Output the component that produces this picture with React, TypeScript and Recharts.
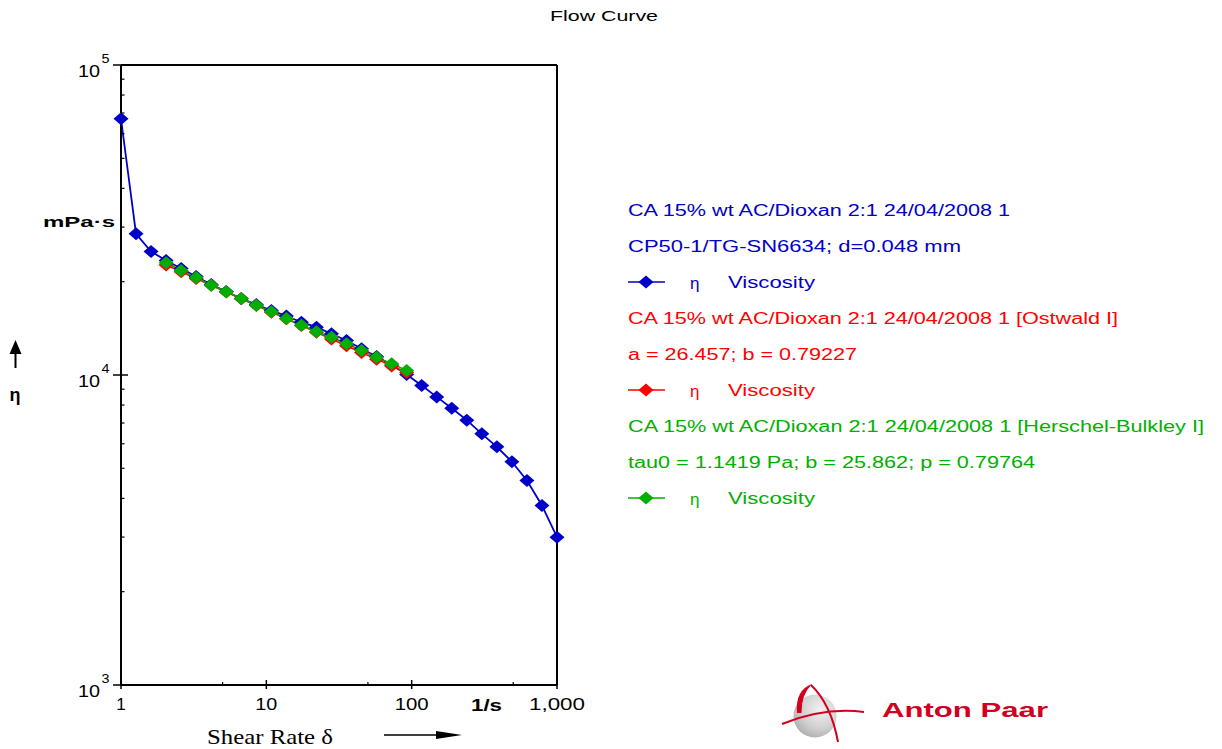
import { LineChart, Line, XAxis, YAxis, ReferenceLine, Legend } from 'recharts'

const FONT = "'Liberation Sans', Arial, Helvetica, sans-serif"
const SERIF = "'Liberation Serif', 'Times New Roman', serif"
const BLUE = '#0000C8'
const RED = '#FF0000'
const GREEN = '#00B000'
const LOGO_RED = '#D2001E'

// shear rate, 1/s (30 log-spaced points)
const shearRate = [
  1, 1.269, 1.61, 2.043, 2.593, 3.29, 4.175, 5.298, 6.723, 8.532,
  10.83, 13.74, 17.43, 22.12, 28.07, 35.62, 45.2, 57.36, 72.79, 92.37,
  117.2, 148.7, 188.7, 239.5, 303.9, 385.7, 489.4, 621.1, 788.1, 1000,
]

// measured viscosity, mPa·s
const etaMeasured = [
  67080, 28540, 25030, 23410, 22050, 20780, 19580, 18590, 17650, 16880,
  16150, 15500, 14800, 14270, 13580, 12920, 12150, 11470, 10770, 10040,
  9250, 8500, 7815, 7150, 6460, 5865, 5250, 4567, 3793, 2998,
]

// the two fits only cover shearRate[3] .. shearRate[19]
const FIT_FROM = 3
const etaOstwald = [
  22640, 21540, 20490, 19490, 18530, 17630, 16770, 15950, 15180,
  14440, 13730, 13070, 12430, 11820, 11250, 10700, 10180,
]
const etaHerschel = [
  23010, 21730, 20630, 19490, 18550, 17650, 16800, 15990, 15220,
  14480, 13790, 13240, 12610, 11990, 11410, 10870, 10340,
]

const xTicks = [1, 5, 10, 50, 100, 500, 1000]
const xTickLabels: Record<number, string> = { 1: '1', 10: '10', 100: '100', 1000: '1,000' }
const yTicks = [
  1000, 2000, 3000, 4000, 5000, 6000, 7000, 8000, 9000,
  10000, 20000, 30000, 40000, 50000, 60000, 70000, 80000, 90000, 100000,
]
const yTickExponents: Record<number, string> = { 1000: '3', 10000: '4', 100000: '5' }

const seriesKeys = ['measured', 'ostwald', 'herschel']
const seriesColors = [BLUE, RED, GREEN]
const seriesTitles = [
  'CA 15% wt AC/Dioxan 2:1 24/04/2008 1',
  'CA 15% wt AC/Dioxan 2:1 24/04/2008 1 [Ostwald I]',
  'CA 15% wt AC/Dioxan 2:1 24/04/2008 1 [Herschel-Bulkley I]',
]
const seriesNotes = [
  'CP50-1/TG-SN6634; d=0.048 mm',
  'a = 26.457; b = 0.79227',
  'tau0 = 1.1419 Pa; b = 25.862; p = 0.79764',
]
// rendered widths of the stretched legend text
const titleWidths = [382, 490, 576]
const noteWidths = [333, 229, 407]

const table = shearRate.map((rate, i) => ({
  rate,
  measured: etaMeasured[i],
  ostwald: etaOstwald[i - FIT_FROM] ?? null,
  herschel: etaHerschel[i - FIT_FROM] ?? null,
}))

function diamond(cx: number, cy: number, w = 7.5, h = 6.5) {
  return `${cx - w},${cy} ${cx},${cy - h} ${cx + w},${cy} ${cx},${cy + h}`
}

function makeDot(color: string) {
  return (p: any) => {
    const { cx, cy, index } = p
    if (cx == null || cy == null || isNaN(cx) || isNaN(cy)) return <g key={`d${index}`} />
    return <polygon key={`d${index}`} points={diamond(cx, cy)} fill={color} />
  }
}

function XTick({ x, y, payload }: any) {
  const label = xTickLabels[payload.value]
  if (!label) {
    return <line x1={x} x2={x} y1={y - 3} y2={y} stroke="#000" strokeWidth={1.2} />
  }
  const widths: Record<string, number> = { '10': 22, '100': 34, '1,000': 56 }
  return (
    <g>
      <line x1={x} x2={x} y1={y - 5} y2={y + 4} stroke="#000" strokeWidth={1.5} />
      <text
        x={x}
        y={y + 24.5}
        textAnchor="middle"
        fontSize={17}
        fontFamily={FONT}
        fill="#000"
        textLength={widths[label]}
        lengthAdjust="spacingAndGlyphs"
      >
        {label}
      </text>
    </g>
  )
}

function YTick({ x, y, payload }: any) {
  const exp = yTickExponents[payload.value]
  if (!exp) {
    return <line x1={x} x2={x + 3.5} y1={y} y2={y} stroke="#000" strokeWidth={1.2} />
  }
  return (
    <g fontFamily={FONT} fill="#000">
      <line x1={x - 8} x2={x + 7} y1={y} y2={y} stroke="#000" strokeWidth={1.5} />
      <text x={x - 43} y={y + 12} fontSize={16} textLength={22} lengthAdjust="spacingAndGlyphs">10</text>
      <text x={x - 19.5} y={y - 2} fontSize={12} textLength={8} lengthAdjust="spacingAndGlyphs">{exp}</text>
    </g>
  )
}

function SeriesLegend({ payload }: any) {
  const items = payload || []
  return (
    <svg width={600} height={330} style={{ display: 'block', overflow: 'visible' }}>
      <g fontFamily={FONT} fontSize={16}>
        {seriesKeys.map((key, k) => {
          const entry = items.find((e: any) => e.dataKey === key)
          const color = entry?.color || seriesColors[k]
          const row = 20 + k * 108
          return (
            <g key={key} fill={color}>
              <text x={8} y={row + 6} textLength={titleWidths[k]} lengthAdjust="spacingAndGlyphs">
                {seriesTitles[k]}
              </text>
              <text x={8} y={row + 42} textLength={noteWidths[k]} lengthAdjust="spacingAndGlyphs">
                {seriesNotes[k]}
              </text>
              <line x1={8} x2={45} y1={row + 72} y2={row + 72} stroke={color} strokeWidth={1.6} />
              <polygon points={diamond(26, row + 72)} fill={color} />
              <text x={70} y={row + 79} fontSize={17}>η</text>
              <text x={108} y={row + 78} textLength={87} lengthAdjust="spacingAndGlyphs">
                {entry?.value || 'Viscosity'}
              </text>
            </g>
          )
        })}
      </g>
    </svg>
  )
}

export default function App() {
  return (
    <div style={{ position: 'absolute', left: 0, top: 0, width: 1222, height: 749, background: '#fff', fontFamily: FONT }}>
      <LineChart width={1222} height={749} data={table} margin={{ top: 65, right: 665, bottom: 34, left: 81 }}>
        <XAxis
          dataKey="rate"
          type="number"
          scale="log"
          domain={[1, 1000]}
          ticks={xTicks}
          interval={0}
          height={30}
          tickSize={0}
          tickMargin={0}
          tickLine={false}
          axisLine={{ stroke: '#000', strokeWidth: 2 }}
          tick={XTick}
        />
        <YAxis
          type="number"
          scale="log"
          domain={[1000, 100000]}
          ticks={yTicks}
          interval={0}
          width={40}
          tickSize={0}
          tickMargin={0}
          tickLine={false}
          axisLine={{ stroke: '#000', strokeWidth: 2 }}
          tick={YTick}
        />
        <ReferenceLine y={100000} stroke="#000" strokeWidth={2} />
        <ReferenceLine x={1000} stroke="#000" strokeWidth={2} />
        <Line
          dataKey="measured"
          name="Viscosity"
          stroke={BLUE}
          strokeWidth={1.8}
          dot={makeDot(BLUE)}
          activeDot={false}
          isAnimationActive={false}
        />
        <Line
          dataKey="ostwald"
          name="Viscosity"
          stroke={RED}
          strokeWidth={1.6}
          dot={makeDot(RED)}
          activeDot={false}
          isAnimationActive={false}
        />
        <Line
          dataKey="herschel"
          name="Viscosity"
          stroke={GREEN}
          strokeWidth={1.6}
          dot={makeDot(GREEN)}
          activeDot={false}
          isAnimationActive={false}
        />
        <Legend
          layout="vertical"
          align="center"
          verticalAlign="middle"
          content={SeriesLegend}
          wrapperStyle={{ left: 620, top: 190, width: 600, height: 330 }}
        />
      </LineChart>

      <svg
        width={1222}
        height={749}
        style={{ position: 'absolute', left: 0, top: 0, pointerEvents: 'none' }}
      >
        <text x={604} y={21} textAnchor="middle" fontFamily={FONT} fontSize={15} textLength={108} lengthAdjust="spacingAndGlyphs">
          Flow Curve
        </text>

        {/* y axis title */}
        <text x={115} y={227} textAnchor="end" fontFamily={FONT} fontSize={15} fontWeight="bold" textLength={72} lengthAdjust="spacingAndGlyphs">
          mPa·s
        </text>
        <polygon points="9.5,354 21.5,354 15.5,340" fill="#000" />
        <line x1={15.5} x2={15.5} y1={353} y2={368} stroke="#000" strokeWidth={2} />
        <text x={15} y={401} textAnchor="middle" fontFamily={FONT} fontSize={18} fontWeight="bold">η</text>

        {/* x axis title */}
        <text x={207} y={744} fontFamily={SERIF} fontSize={21} textLength={126} lengthAdjust="spacingAndGlyphs">
          Shear Rate δ
        </text>
        <line x1={384} x2={440} y1={735} y2={735} stroke="#000" strokeWidth={1.5} />
        <polygon points="436,731 462,735 436,739" fill="#000" />
        <text x={471} y={711} fontFamily={FONT} fontSize={17} fontWeight="bold" textLength={31} lengthAdjust="spacingAndGlyphs">
          1/s
        </text>

        {/* Anton Paar logo */}
        <defs>
          <radialGradient id="sphere" cx="0.62" cy="0.35" r="0.75">
            <stop offset="0" stopColor="#f2f2f2" />
            <stop offset="0.6" stopColor="#cfcfcf" />
            <stop offset="1" stopColor="#a8a8a8" />
          </radialGradient>
        </defs>
        <circle cx={815} cy={716} r={21.5} fill="url(#sphere)" />
        <path d="M 797 713 Q 795 690 812 684 Q 801 695 801.5 713 Z" fill={LOGO_RED} />
        <path d="M 811 685 Q 831 704 838 742" stroke={LOGO_RED} strokeWidth={2} fill="none" />
        <path d="M 782 724 Q 824 707 864 712" stroke={LOGO_RED} strokeWidth={2} fill="none" />
        <text x={882} y={717} fontFamily={FONT} fontSize={21} fontWeight="bold" fill={LOGO_RED} textLength={166} lengthAdjust="spacingAndGlyphs">
          Anton Paar
        </text>
      </svg>
    </div>
  )
}
